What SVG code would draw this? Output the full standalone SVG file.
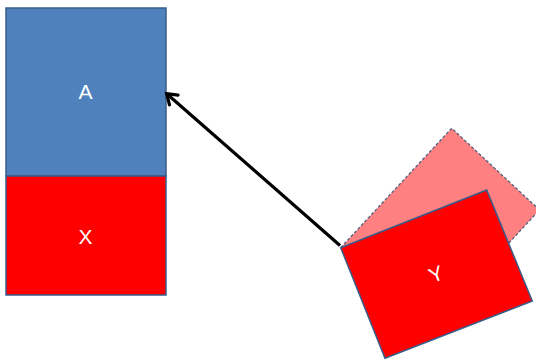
<svg xmlns="http://www.w3.org/2000/svg" width="536" height="360" viewBox="0 0 536 360">
<style>
.lbl{font-family:"Liberation Sans",Arial,sans-serif;font-size:21px;fill:#ffffff;text-anchor:middle}
.box{stroke:#385D8A;stroke-width:1.5}
</style>
<defs>
<marker id="arr" markerWidth="14" markerHeight="14" refX="10" refY="7" orient="auto" markerUnits="userSpaceOnUse" overflow="visible">
<path d="M1,0.5 L10.5,7 L1,13.5" fill="none" stroke="#000" stroke-width="3.2" stroke-linecap="round" stroke-linejoin="miter"/>
</marker>
</defs>
<rect width="536" height="360" fill="#ffffff"/>
<g id="node-A">
<rect class="box" x="6" y="8" width="160" height="168" fill="#4F81BD"/>
<text class="lbl" x="85.5" y="99">A</text>
</g>
<g id="node-X">
<rect class="box" x="6" y="176" width="160" height="119" fill="#FF0000"/>
<text class="lbl" x="85.5" y="244">X</text>
</g>
<g id="node-ghost">
<polygon points="340.7,247.7 451.7,128.3 539.5,210 428.5,329.4" fill="#FF8080" stroke="#4F5F7F" stroke-width="1.3" stroke-dasharray="3,2"/>
</g>
<g id="connectors">
<line x1="340" y1="245.5" x2="167" y2="94" stroke="#000" stroke-width="3.2" marker-end="url(#arr)"/>
</g>
<g id="node-Y">
<polygon class="box" points="340.7,247.7 486.7,190 532.3,301 385,358.3" fill="#FF0000"/>
<text class="lbl" x="436" y="281.5" transform="rotate(-21.6 436 274)">Y</text>
</g>
</svg>
